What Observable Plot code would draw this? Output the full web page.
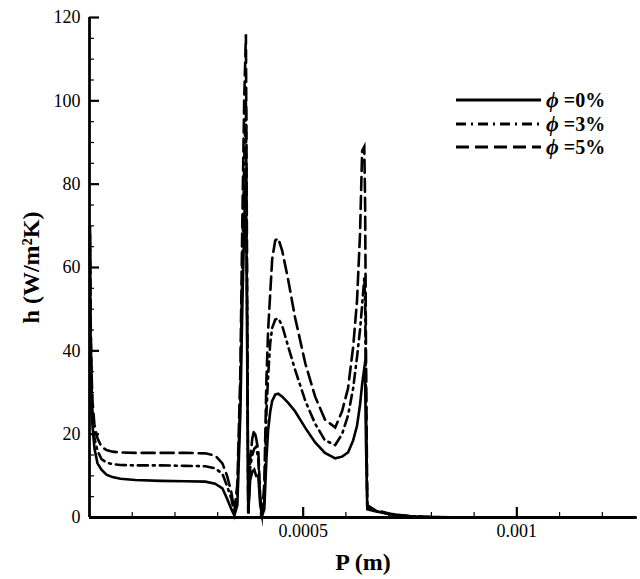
<!DOCTYPE html>
<html><head><meta charset="utf-8">
<script src="https://cdn.jsdelivr.net/npm/d3@7"></script>
<script src="https://cdn.jsdelivr.net/npm/@observablehq/plot@0.6"></script>
<style>
body{margin:0;background:#fff;}
#wrap{position:relative;width:640px;height:579px;}
#legend{position:absolute;left:0;top:0;pointer-events:none;}
</style></head><body><div id="wrap"></div>
<script>
// P (m)
const pos = [0.0000012,0.0000023,0.0000047,0.000007,0.0000117,0.0000187,0.000028,0.0000397,0.0000537,0.0000724,
  0.0001075,0.000166,0.000224,0.000271,0.000294,0.000311,0.000322,0.000332,0.000339,0.000346,
  0.000353,0.0003575,0.000362,0.000366,0.0003715,0.000376,0.000381,0.0003855,0.00039,0.000395,
  0.0003995,0.000404,0.000409,0.000414,0.000418,0.000423,0.0004275,0.0004346,0.0004416,0.000451,
  0.000465,0.000481,0.000505,0.000528,0.000551,0.000575,0.000591,0.000605,0.000617,0.000626,
  0.000633,0.000638,0.000643,0.000645,0.000647,0.00065,0.000668,0.000703,0.00075,0.000797,
  0.000914,0.0011,0.001278];
// h (W/m²K), phi = 0%
const h0 = [70,45,28,22,16.5,13,11.5,10.3,9.7,9.3,
  9.0,8.8,8.7,8.6,8.1,7.0,4.5,2,0.5,3,
  25,50,70,84,1,9,11,11.5,10,10,
  3,0.5,2,14,21,25.5,28,29.5,29.7,29,
  27.5,25.5,21.5,18,15.5,14.2,14.6,15.6,18.5,22,
  27,32,35.8,33,18,2,1.5,0.8,0.3,0.1,
  0,0,0];
// phi = 3%
const h3 = [68,48,32,25,19,16,14,13.2,12.8,12.6,
  12.5,12.5,12.4,12.3,11.8,10.5,7.5,4.5,1,5,
  30,60,85,100,1,12,15,16.5,17,14,
  4,0.8,4,25,34,42,45.5,47.5,47.8,46,
  41,35.5,28,22.5,18.5,17.4,20,24.5,31,38.5,
  45,51,57.5,52,28,2.5,1.6,0.8,0.3,0.1,
  0,0,0];
// phi = 5%
const h5 = [66,50,35,28,22,19,17,16.2,15.8,15.6,
  15.5,15.5,15.5,15.4,14.9,13,10,6,1.5,8,
  35,70,100,116,1,14,19,21,19,16,
  5,1,8,33,45,54,62,66.5,67,64,
  57,48,37,29,23.5,21.6,25.5,31,41,52,
  68,88,89,75,40,3,1.8,0.9,0.3,0.1,
  0,0,0];
const seriesNames = ["=0%","=3%","=5%"];
const xLabelTicks = [0.0005,0.001];
const xMinorTicks = [0.0001,0.0002,0.0003,0.0004,0.0006,0.0007,0.0008,0.0009,0.0011,0.0012];
const yLabelTicks = [0,20,40,60,80,100,120];
const yMajorTicks = [20,40,60,80,100,120];
const yMinorTicks = [5,10,15,25,30,35,45,50,55,65,70,75,85,90,95,105,110,115];

const dashes = [null,"10,5,2,5","13,6"];
const seriesValues = [h0,h3,h5];

const lineMarks = seriesValues.map((vals,k) =>
  Plot.line(pos.map((x,i)=>({x, h: vals[i]})), {
    x:"x", y:"h", stroke:"#000", strokeWidth:2.6,
    strokeDasharray: dashes[k] || undefined, strokeLinejoin:"miter", strokeMiterlimit: 20
  }));

const chart = Plot.plot({
  width:640, height:579,
  marginLeft:89, marginRight:4, marginTop:17, marginBottom:62,
  style:{fontFamily:"'Liberation Serif', serif", fontSize:"18px", color:"#000", background:"#fff"},
  x:{domain:[0,0.00128]},
  y:{domain:[0,120]},
  marks:[
    Plot.axisX({ticks:xLabelTicks, tickSize:0, tickPadding:7, tickFormat:d=>String(d), label:null, fontSize:18}),
    Plot.axisX({ticks:xLabelTicks, tickSize:-10, strokeWidth:2.2, fill:"none", label:null}),
    Plot.axisX({ticks:xMinorTicks, tickSize:-5, strokeWidth:1.2, fill:"none", label:null}),
    Plot.axisY({ticks:yLabelTicks, tickSize:0, tickPadding:9, tickFormat:d=>String(d), label:null, fontSize:18}),
    Plot.axisY({ticks:yMajorTicks, tickSize:-10, strokeWidth:2.2, fill:"none", label:null}),
    Plot.axisY({ticks:yMinorTicks, tickSize:-5, strokeWidth:1.2, fill:"none", label:null}),
    ...lineMarks,
    Plot.ruleX([0], {strokeWidth:2.8}),
    Plot.ruleY([0], {strokeWidth:2.8}),
    Plot.text(["h (W/m\u00B2K)"], {frameAnchor:"left", dx:-58, rotate:-90, textAnchor:"middle", lineAnchor:"middle", fontWeight:"bold", fontSize:24}),
    Plot.text(["P (m)"], {frameAnchor:"bottom", dy:52, textAnchor:"middle", fontWeight:"bold", fontSize:24})
  ]
});
const wrap = document.getElementById("wrap");
wrap.appendChild(chart);

// legend overlay
const lg = d3.select(wrap).append("svg").attr("id","legend").attr("width",640).attr("height",579);
const ly = [100,124,147];
seriesNames.forEach((name,k)=>{
  lg.append("line").attr("x1",456).attr("x2",541).attr("y1",ly[k]).attr("y2",ly[k])
    .attr("stroke","#000").attr("stroke-width",3)
    .attr("stroke-dasharray", dashes[k] || null);
  const t = lg.append("text").attr("x",546).attr("y",ly[k]+7)
    .attr("font-family","'Liberation Serif', serif").attr("font-size",20).attr("font-weight","bold");
  t.append("tspan").attr("font-style","italic").attr("font-size",22).text("\u03D5");
  t.append("tspan").text(" " + name);
});
</script></body></html>
